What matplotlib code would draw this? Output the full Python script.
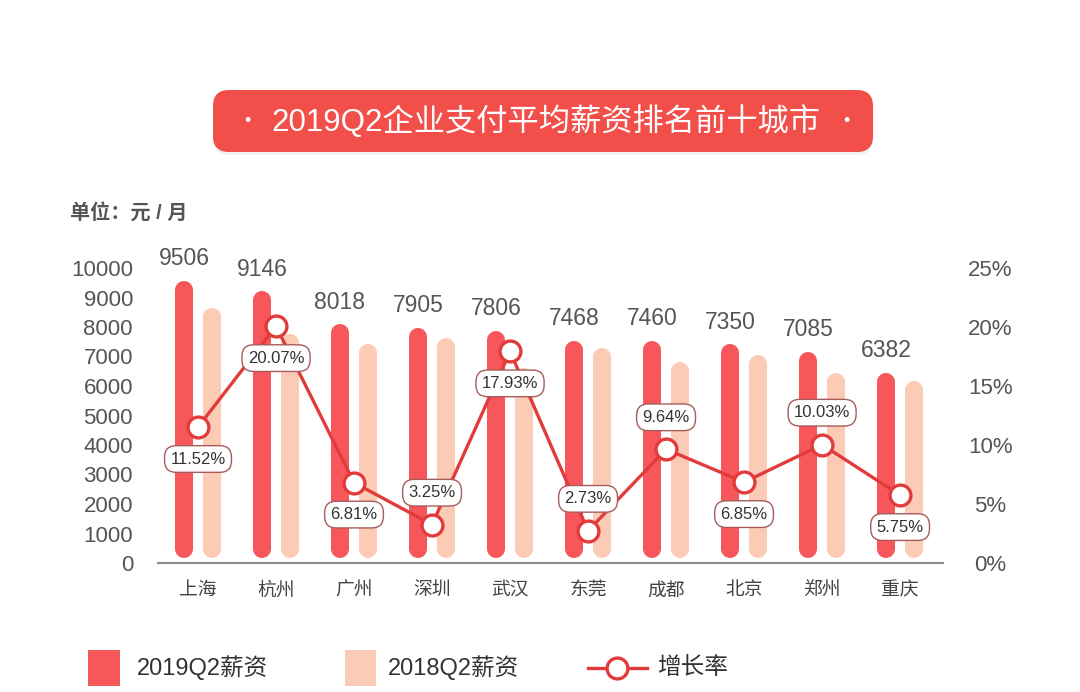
import numpy as np
import matplotlib.pyplot as plt
from matplotlib.patches import FancyBboxPatch, Rectangle

plt.rcParams['font.family'] = ['Liberation Sans', 'Noto Sans CJK SC']

# 数据
cities = ['上海', '杭州', '广州', '深圳', '武汉', '东莞', '成都', '北京', '郑州', '重庆']
salary_2019 = [9506, 9146, 8018, 7905, 7806, 7468, 7460, 7350, 7085, 6382]
salary_2018 = [8560, 7680, 7360, 7560, 6550, 7230, 6750, 6990, 6360, 6100]
growth = [11.52, 20.07, 6.81, 3.25, 17.93, 2.73, 9.64, 6.85, 10.03, 5.75]
label_side = ['below', 'below', 'below', 'above', 'below',
              'above', 'above', 'below', 'above', 'below']
series_names = ['2019Q2薪资', '2018Q2薪资', '增长率']
title = '2019Q2企业支付平均薪资排名前十城市'

RED = '#f7575b'
PEACH = '#fccbb6'
LINE = '#e23b3b'
TITLE_BG = '#f24f4a'
GREY = '#555555'

fig = plt.figure(figsize=(10.8, 6.92), dpi=100)

# overlay in pixel coords for title / legend
fax = fig.add_axes([0, 0, 1, 1], zorder=-1)
fax.set_xlim(0, 1080)
fax.set_ylim(692, 0)
fax.axis('off')

ax = fig.add_axes([158 / 1080, 1 - 563 / 692, (943 - 158) / 1080, (563 - 268) / 692])
ax.patch.set_visible(False)
x = np.arange(len(cities))
off = 0.18

# bars drawn as thick lines with round caps
s19 = np.array(salary_2019)
s18 = np.array(salary_2018)
ax.vlines(x - off, 475, s19 - 235, colors=RED, lw=13, capstyle='round', zorder=2)
ax.vlines(x + off, 475, s18 - 235, colors=PEACH, lw=13, capstyle='round', zorder=2)

for xi, v in zip(x - off, salary_2019):
    ax.annotate(str(v), (xi, v), xytext=(0, 9), textcoords='offset points',
                ha='center', va='bottom', fontsize=16.5, color=GREY)

ax.set_xlim(-0.513, 9.55)
ax.set_ylim(0, 10000)
ax.set_yticks(np.arange(0, 10001, 1000))
ax.set_xticks(x)
ax.set_xticklabels(cities, fontsize=13.5, color='#444444')
ax.tick_params(axis='y', length=0, pad=18, labelsize=16, labelcolor=GREY)
ax.tick_params(axis='x', length=0, pad=14)
for sp in ['top', 'left', 'right']:
    ax.spines[sp].set_visible(False)
ax.spines['bottom'].set_color('#8a8a8a')
ax.spines['bottom'].set_linewidth(1.5)

ax2 = ax.twinx()
ax2.set_ylim(0, 25)
ax2.set_yticks(np.arange(0, 26, 5))
ax2.set_yticklabels([f'{v}%' for v in range(0, 26, 5)])
ax2.tick_params(axis='y', length=0, pad=34, labelsize=16, labelcolor=GREY)
for lab in ax2.get_yticklabels():
    lab.set_horizontalalignment('center')
for sp in ax2.spines.values():
    sp.set_visible(False)

ax2.plot(x, growth, color=LINE, lw=2.4, marker='o', ms=15,
         mfc='white', mec=LINE, mew=2.4, zorder=3)

for xi, g, side in zip(x, growth, label_side):
    dy = -23 if side == 'below' else 23
    ax2.annotate(f'{g:.2f}%', (xi, g), xytext=(0, dy), textcoords='offset points',
                 ha='center', va='center', fontsize=12, color='#333333', zorder=5,
                 bbox=dict(boxstyle='round,pad=0.35,rounding_size=0.7',
                           fc='white', ec='#a65c5a', lw=1))

# title box
fax.add_patch(FancyBboxPatch((213, 93), 660, 62, boxstyle='round,pad=0,rounding_size=16',
                             fc='black', ec='none', alpha=0.06))
fax.add_patch(FancyBboxPatch((213, 90), 660, 62, boxstyle='round,pad=0,rounding_size=16',
                             fc=TITLE_BG, ec='none'))
fax.text(546, 122, title, ha='center', va='center', color='white', fontsize=22.5)
fax.text(247, 122, '•', ha='center', va='center', color='white', fontsize=13)
fax.text(846, 122, '•', ha='center', va='center', color='white', fontsize=13)

fax.text(70, 213, '单位：元 / 月', ha='left', va='center', fontsize=14.5,
         color=GREY, fontweight='bold')

# legend
fax.add_patch(Rectangle((88, 650), 32, 36, fc=RED, ec='none'))
fax.text(137, 668, series_names[0], ha='left', va='center', fontsize=17, color='#333333')
fax.add_patch(Rectangle((345, 650), 31, 36, fc=PEACH, ec='none'))
fax.text(388, 668, series_names[1], ha='left', va='center', fontsize=17, color='#333333')
fax.plot([588, 647], [668, 668], color=LINE, lw=2.4)
fax.plot([617], [668], marker='o', ms=15, mfc='white', mec=LINE, mew=2.4)
fax.text(657, 668, series_names[2], ha='left', va='center', fontsize=17, color='#333333')

fig.savefig('out.png', dpi=100)
